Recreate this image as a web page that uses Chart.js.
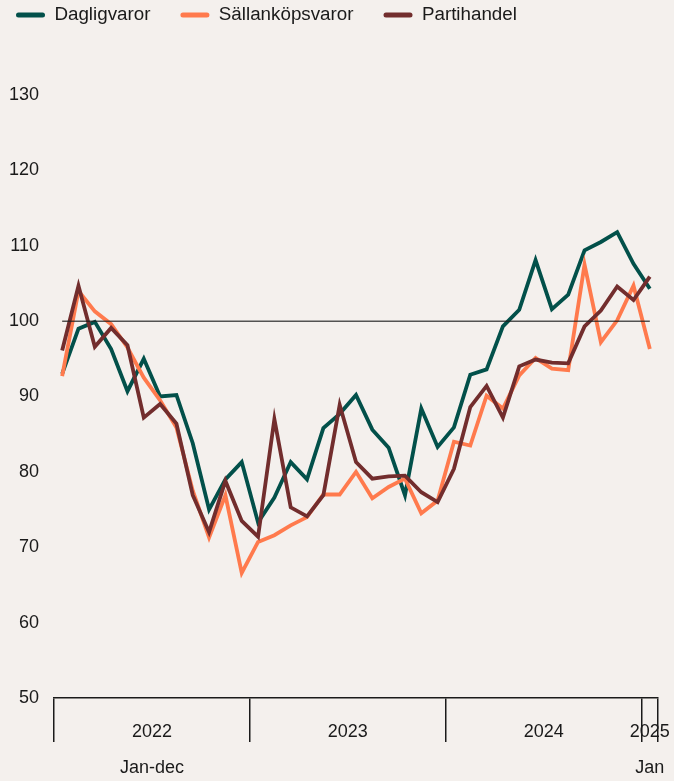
<!DOCTYPE html>
<html lang="sv">
<head>
<meta charset="utf-8">
<title>Försäljningsvolym</title>
<script src="https://cdn.jsdelivr.net/npm/chart.js@4.4.1/dist/chart.umd.min.js"></script>
<style>
  html, body { margin: 0; padding: 0; background: #f4f0ed; }
  .wrap { width: 674px; height: 781px; position: relative; }
</style>
</head>
<body>
<div class="wrap"><canvas id="chart"></canvas></div>
<script>
// Monthly index, Jan 2022 - Jan 2025
const months = [];
['2022', '2023', '2024'].forEach(y => {
    for (let m = 1; m <= 12; m++) months.push(`${y}-${String(m).padStart(2, '0')}`);
});
months.push('2025-01');

const dagligvaror = [93.0, 99.0, 99.9, 96.3, 90.7, 95.0, 90.0, 90.2, 83.8, 75.0, 79.0, 81.3,
    73.3, 76.6, 81.3, 79.0, 85.8, 87.7, 90.2, 85.6, 83.2, 76.9, 88.4, 83.3,
    85.9, 92.9, 93.6, 99.3, 101.5, 108.1, 101.6, 103.5, 109.4, 110.5, 111.8, 107.6,
    104.3];
const sallankopsvaror = [92.7, 104.0, 101.3, 99.6, 96.5, 92.5, 89.5, 85.9, 77.5, 71.3, 76.9, 66.6,
    70.7, 71.6, 72.9, 74.0, 77.0, 77.0, 80.0, 76.5, 78.0, 79.1, 74.5, 76.2,
    84.0, 83.5, 90.1, 88.4, 92.8, 95.1, 93.7, 93.5, 107.5, 97.2, 100.1, 104.7,
    96.3];
const partihandel = [96.1, 104.7, 96.6, 99.1, 96.8, 87.2, 89.0, 86.4, 76.9, 72.0, 78.8, 73.5,
    71.4, 87.0, 75.3, 74.1, 76.9, 88.9, 81.3, 79.1, 79.4, 79.5, 77.3, 76.0,
    80.4, 88.6, 91.4, 87.2, 94.0, 94.9, 94.5, 94.4, 99.3, 101.4, 104.6, 102.8,
    105.9];

const yTicks = [50, 60, 70, 80, 90, 100, 110, 120, 130];
const indexBase = 100;
const periodText = { '2022': 'Jan-dec', '2025': 'Jan' };

const fontFamily = "'Liberation Sans', Arial, sans-serif";
const textColor = '#1a1a1a';
const legendPad = 30;
const fontSize = 18;
const legendFontSize = 18.8;

// year groups from the month labels
const yearGroups = [];
months.forEach((m, i) => {
    const y = m.slice(0, 4);
    const last = yearGroups[yearGroups.length - 1];
    if (last && last.year === y) last.to = i;
    else yearGroups.push({ year: y, from: i, to: i });
});

// legend: taller box so the plot starts lower, and nudged into the corner
const legendLayout = {
    id: 'legendLayout',
    beforeInit(chart) {
        const fit = chart.legend.fit;
        chart.legend.fit = function () {
            fit.call(this);
            this.height = 95;
        };
    },
    afterLayout(chart) {
        chart.legend.top = 15 - legendPad - legendFontSize / 2;
        chart.legend.left = 16 - legendPad;
    }
};

// the 100 line, from first to last month
const indexLine = {
    id: 'indexLine',
    afterDatasetsDraw(chart) {
        const { ctx, scales: { x, y } } = chart;
        const py = y.getPixelForValue(indexBase);
        ctx.save();
        ctx.strokeStyle = 'rgba(30, 30, 30, 0.75)';
        ctx.lineWidth = 1.5;
        ctx.beginPath();
        ctx.moveTo(x.getPixelForValue(0), py);
        ctx.lineTo(x.getPixelForValue(months.length - 1), py);
        ctx.stroke();
        ctx.restore();
    }
};

// year labels under the axis
const yearAxis = {
    id: 'yearAxis',
    afterDraw(chart) {
        const { ctx, scales: { x } } = chart;
        ctx.save();
        ctx.fillStyle = textColor;
        ctx.font = `${fontSize}px ${fontFamily}`;
        ctx.textAlign = 'center';
        ctx.textBaseline = 'middle';
        yearGroups.forEach(g => {
            const cx = (x.getPixelForValue(g.from) + x.getPixelForValue(g.to)) / 2;
            ctx.fillText(g.year, cx, x.top + 34);
            if (periodText[g.year]) ctx.fillText(periodText[g.year], cx, x.top + 70);
        });
        ctx.restore();
    }
};

const ctx = document.getElementById('chart').getContext('2d');
new Chart(ctx, {
    type: 'line',
    data: {
        labels: months,
        datasets: [
            { label: 'Dagligvaror', data: dagligvaror, borderColor: '#02504a', backgroundColor: '#02504a', order: 3 },
            { label: 'Sällanköpsvaror', data: sallankopsvaror, borderColor: '#ff7a4d', backgroundColor: '#ff7a4d', order: 2 },
            { label: 'Partihandel', data: partihandel, borderColor: '#722d2d', backgroundColor: '#722d2d', order: 1 }
        ]
    },
    options: {
        responsive: true,
        maintainAspectRatio: false,
        animation: false,
        layout: { padding: { left: 0, right: 16, top: 0, bottom: 39 } },
        elements: {
            line: { borderWidth: 3.8, tension: 0, fill: false },
            point: { radius: 0, hoverRadius: 0 }
        },
        plugins: {
            tooltip: { enabled: false },
            legend: {
                position: 'top',
                align: 'start',
                labels: {
                    boxWidth: 29,
                    boxHeight: 5,
                    padding: legendPad,
                    useBorderRadius: true,
                    borderRadius: 2.5,
                    color: textColor,
                    font: { family: fontFamily, size: legendFontSize },
                    sort: (a, b) => a.datasetIndex - b.datasetIndex,
                    generateLabels(chart) {
                        const items = Chart.defaults.plugins.legend.labels.generateLabels(chart);
                        return items.map(it => ({ ...it, lineWidth: 0 }));
                    }
                }
            }
        },
        scales: {
            x: {
                type: 'category',
                offset: true,
                grid: {
                    offset: true,
                    drawOnChartArea: false,
                    drawTicks: true,
                    tickLength: 44,
                    lineWidth: 1.5,
                    color: c => (c.index === undefined || c.index % 12 === 0) ? textColor : 'transparent'
                },
                border: { display: true, color: textColor, width: 1.5 },
                ticks: { display: false, autoSkip: false }
            },
            y: {
                min: yTicks[0],
                max: yTicks[yTicks.length - 1],
                afterBuildTicks: s => { s.ticks = yTicks.map(v => ({ value: v })); },
                afterFit: s => { s.width = 54; },
                grid: { display: false, drawTicks: false },
                border: { display: false },
                ticks: {
                    padding: 15,
                    color: textColor,
                    font: { family: fontFamily, size: fontSize }
                }
            }
        }
    },
    plugins: [legendLayout, indexLine, yearAxis]
});
</script>
</body>
</html>
